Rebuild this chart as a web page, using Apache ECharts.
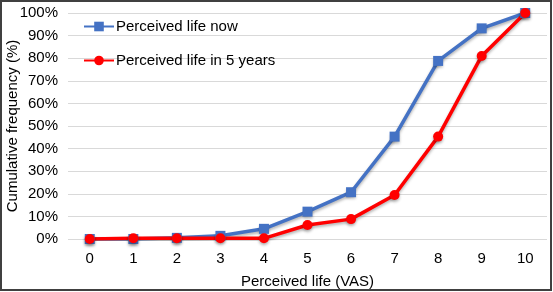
<!DOCTYPE html>
<html>
<head>
<meta charset="utf-8">
<script src="https://cdn.jsdelivr.net/npm/echarts@6/dist/echarts.min.js"></script>
<style>html,body{margin:0;padding:0;background:#fff}#c{width:553px;height:292px}</style>
</head>
<body>
<div id="c"></div>
<script>
const categories = ['0','1','2','3','4','5','6','7','8','9','10'];
const lifeNow = [0, 0, 0.5, 1.4, 4.5, 12.1, 20.7, 45.3, 78.8, 93.2, 100];
const lifeIn5 = [0, 0.3, 0.3, 0.3, 0.3, 6.2, 8.8, 19.5, 45.3, 81, 100];
const seriesNames = ['Perceived life now', 'Perceived life in 5 years'];
const yTicks = {min: 0, max: 100, interval: 10};

const chart = echarts.init(document.getElementById('c'), null, {renderer: 'canvas'});
const font = 'Liberation Sans, Arial, sans-serif';
chart.setOption({
  animation: false,
  grid: {left: 68, right: 6, top: 13, bottom: 53, containLabel: false, outerBoundsMode: 'none'},
  graphic: [{type: 'rect', shape: {x: 1, y: 1, width: 550, height: 289}, style: {fill: 'none', stroke: '#404040', lineWidth: 2}, z: 100}],
  legend: {
    orient: 'vertical', left: 78, top: 14, itemGap: 19, itemWidth: 30, itemHeight: 12,
    textStyle: {fontFamily: font, fontSize: 15, color: '#000', padding: [0, 0, 0, -3]},
    data: seriesNames
  },
  xAxis: {
    type: 'category', data: categories, boundaryGap: true,
    name: 'Perceived life (VAS)', nameLocation: 'middle', nameGap: 35, nameMoveOverlap: false,
    nameTextStyle: {fontFamily: font, fontSize: 15, color: '#000'},
    axisLine: {show: false}, axisTick: {show: false},
    axisLabel: {fontFamily: font, fontSize: 15, color: '#000', margin: 12}
  },
  yAxis: {
    type: 'value', min: yTicks.min, max: yTicks.max, interval: yTicks.interval,
    name: 'Cumulative frequency (%)', nameLocation: 'middle', nameGap: 48, nameMoveOverlap: false,
    nameTextStyle: {fontFamily: font, fontSize: 15, color: '#000'},
    axisLine: {show: false}, axisTick: {show: false},
    axisLabel: {fontFamily: font, fontSize: 15, color: '#000', margin: 10, formatter: v => v + '%'},
    splitLine: {lineStyle: {color: '#d9d9d9', width: 1}}
  },
  series: [
    {
      name: seriesNames[0], type: 'line', data: lifeNow,
      symbol: 'rect', symbolSize: 10,
      lineStyle: {color: '#4472C4', width: 3.5, shadowColor: 'rgba(0,0,0,0.3)', shadowBlur: 3, shadowOffsetY: 2},
      itemStyle: {color: '#4472C4', shadowColor: 'rgba(0,0,0,0.3)', shadowBlur: 3, shadowOffsetY: 2}
    },
    {
      name: seriesNames[1], type: 'line', data: lifeIn5,
      symbol: 'circle', symbolSize: 10,
      lineStyle: {color: '#FF0000', width: 3.5, shadowColor: 'rgba(0,0,0,0.3)', shadowBlur: 3, shadowOffsetY: 2},
      itemStyle: {color: '#FF0000', shadowColor: 'rgba(0,0,0,0.3)', shadowBlur: 3, shadowOffsetY: 2}
    }
  ]
});
</script>
</body>
</html>
